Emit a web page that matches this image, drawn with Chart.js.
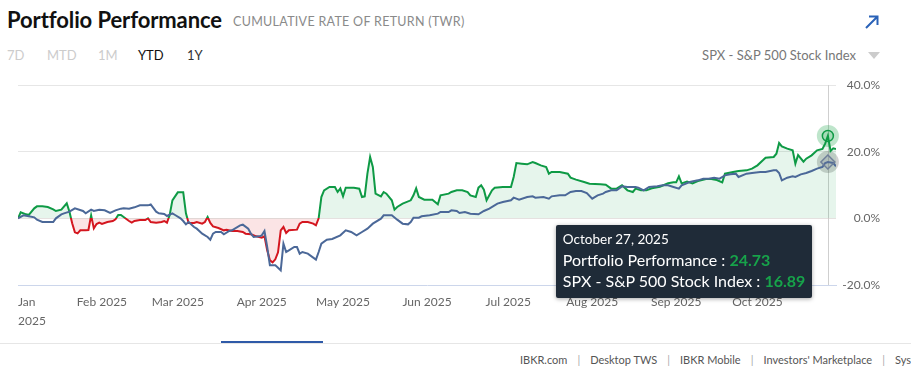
<!DOCTYPE html>
<html><head><meta charset="utf-8">
<script src="https://cdn.jsdelivr.net/npm/chart.js@4.4.1/dist/chart.umd.min.js"></script>
<style>
html,body{margin:0;padding:0;background:#fff;width:911px;height:374px;overflow:hidden;font-family:Lato,"Open Sans",sans-serif;}
.abs{position:absolute;white-space:nowrap;line-height:1;}
#title{left:7px;top:9px;font-size:22px;font-weight:700;color:#111;letter-spacing:-0.1px;}
#sub{left:233px;top:16px;font-size:12.5px;color:#8a8a8a;letter-spacing:0.3px;}
.tab{top:49px;font-size:13px;}
#spx{right:55px;top:49px;font-size:13px;color:#777;}
#tri{left:868px;top:52px;width:0;height:0;border-left:6px solid transparent;border-right:6px solid transparent;border-top:7px solid #ccc;}
#arrow{left:864px;top:14px;}
#wrap{position:absolute;left:0;top:75px;width:911px;height:260px;}
#sep{position:absolute;left:0;top:343px;width:911px;height:1px;background:#e6e6e6;}
#bar{position:absolute;left:221px;top:341px;width:102px;height:2px;background:#2f5aa8;}
#foot{left:520px;top:354px;font-size:11px;color:#555;}
#foot .s{color:#aaa;margin:0 10px;}
#tip{position:absolute;background:#1f2b38;color:#fff;padding:5px 7px 7px 7px;border-radius:2px;box-shadow:0 1px 4px rgba(0,0,0,0.35);white-space:nowrap;pointer-events:none;font-family:Lato,"Open Sans",sans-serif;}
#tip .t{font-size:13.5px;line-height:19px;}
#tip .l{font-size:16px;line-height:21px;}
#tip .v{color:#17a34a;font-weight:700;}
</style></head>
<body>
<div class="abs" id="title">Portfolio Performance</div>
<div class="abs" id="sub">CUMULATIVE RATE OF RETURN (TWR)</div>
<div class="abs tab" style="left:7px;color:#ccc">7D</div>
<div class="abs tab" style="left:47px;color:#ccc">MTD</div>
<div class="abs tab" style="left:98px;color:#ccc">1M</div>
<div class="abs tab" style="left:138px;color:#111">YTD</div>
<div class="abs tab" style="left:187px;color:#333">1Y</div>
<div class="abs" id="spx">SPX - S&amp;P 500 Stock Index</div>
<div class="abs" id="tri"></div>
<svg class="abs" id="arrow" width="16" height="16" viewBox="0 0 16 16"><path d="M2 14 L13 3 M5 2.5 H13.5 V11" stroke="#2a62b8" stroke-width="2" fill="none"/></svg>
<div id="wrap"><canvas id="c"></canvas><div id="tip" style="opacity:0"></div></div>
<div id="sep"></div><div id="bar"></div>
<div class="abs" id="foot">IBKR.com<span class="s">|</span>Desktop TWS<span class="s">|</span>IBKR Mobile<span class="s">|</span>Investors' Marketplace<span class="s">|</span>System Status</div>
<script>
// ---------- DATA ----------
const portfolioName = "Portfolio Performance";
const spxName = "SPX - S&P 500 Stock Index";
const portfolioDates = ["01-01","01-02","01-04","01-05","01-07","01-08","01-10","01-12","01-14","01-15","01-17","01-19","01-20","01-21","01-22","01-23","01-24","01-26","01-27","01-28","01-29","01-30","01-31",
"02-01","02-03","02-05","02-06","02-07","02-08","02-10","02-11","02-12","02-13","02-15","02-17","02-18","02-19","02-21","02-23","02-24","02-25","02-26","02-27",
"03-01","03-03","03-04","03-05","03-07","03-08","03-10","03-11","03-12","03-13","03-14","03-16","03-18","03-19","03-21","03-23","03-25","03-26","03-28","03-30",
"04-01","04-02","04-03","04-04","04-05","04-06","04-07","04-08","04-09","04-10","04-11","04-14","04-15","04-16","04-18","04-20","04-21","04-22","04-23","04-24","04-26","04-28","04-29","04-30",
"05-01","05-02","05-05","05-07","05-08","05-09","05-10","05-11","05-12","05-13","05-15","05-16","05-17","05-19","05-20","05-21","05-23","05-26","05-27","05-28","05-29","05-31",
"06-03","06-05","06-06","06-09","06-10","06-12","06-14","06-16","06-17","06-19","06-20","06-21","06-22","06-23","06-25","06-26","06-29",
"07-02","07-03","07-04","07-06","07-08","07-10","07-11","07-13","07-15","07-16","07-17","07-20","07-23","07-24","07-26","07-29","07-31",
"08-04","08-06","08-08","08-10","08-12","08-14","08-16","08-17","08-19","08-21","08-23","08-26","08-29","08-31",
"09-01","09-02","09-03","09-05","09-07","09-09","09-12","09-14","09-16","09-18","09-19","09-22","09-24","09-27","09-29",
"10-01","10-03","10-04","10-07","10-08","10-09","10-10","10-12","10-14","10-15","10-16","10-18","10-19","10-21","10-23","10-25","10-26","10-27","10-28","10-29","10-30"];
const portfolioValues = [0.0,1.8,1.2,1.0,3.0,3.6,3.6,3.4,2.7,2.2,2.6,4.5,2.0,-1.5,-4.2,-4.5,-3.6,-3.6,-3.5,0.9,-3.0,-1.7,-1.3,
-1.7,-1.1,-0.8,-0.3,1.0,1.0,-0.2,-0.8,-1.3,-0.8,-0.5,-0.5,0.0,-1.1,-1.3,-1.1,-0.8,-1.3,1.0,5.4,
7.8,7.8,1.5,-1.4,-1.4,-1.1,-1.6,-1.1,0.4,-1.4,-2.4,-2.9,-3.6,-3.4,-3.8,-3.8,-4.1,-4.6,-4.8,-5.4,
-5.8,-5.4,-9.6,-12.6,-13.2,-12.3,-10.2,-3.6,-2.6,-4.4,-3.6,-3.4,-1.6,-1.1,-1.1,-1.6,-2.1,0.0,6.4,8.4,9.4,9.4,7.9,9.0,
6.6,9.2,9.2,8.9,6.4,6.6,13.4,18.4,15.4,7.4,6.6,7.9,7.4,5.4,2.6,3.4,4.4,5.4,6.9,9.0,6.4,5.6,
5.6,4.2,6.9,7.4,7.9,8.4,8.4,7.9,6.9,6.4,9.2,9.9,8.6,5.4,8.4,9.2,9.4,
9.4,12.4,16.6,16.4,16.2,16.9,16.6,15.9,15.4,13.4,13.9,13.9,13.4,12.2,11.6,10.9,10.4,
10.2,10.1,8.9,8.9,9.9,8.4,7.9,8.9,8.4,8.4,9.0,9.5,10.5,10.8,
10.8,12.6,10.5,11.0,10.5,11.2,11.8,11.8,11.5,10.8,13.4,13.9,14.2,14.4,14.9,
15.9,17.4,18.2,18.4,19.4,22.6,21.6,20.9,20.4,16.4,19.0,17.0,17.9,18.9,20.4,20.8,22.4,24.73,20.2,21.0,20.8];
const spxDates = ["01-01","01-03","01-05","01-07","01-08","01-10","01-14","01-15","01-17","01-18","01-20","01-22","01-25","01-26","01-28","01-29","01-31",
"02-02","02-04","02-06","02-08","02-09","02-11","02-13","02-15","02-18","02-19","02-21","02-22","02-24","02-25","02-27","02-28",
"03-02","03-03","03-04","03-05","03-07","03-08","03-10","03-12","03-13","03-14","03-15","03-17","03-18","03-20","03-21","03-24","03-25","03-27","03-28","03-29","03-31",
"04-01","04-02","04-03","04-04","04-06","04-07","04-08","04-09","04-10","04-11","04-13","04-14","04-15","04-16","04-18","04-21","04-22","04-23","04-25","04-27","04-30",
"05-02","05-04","05-06","05-08","05-10","05-12","05-15","05-16","05-19","05-21","05-23","05-25","05-26","05-27","05-29","05-30",
"06-02","06-05","06-06","06-09","06-10","06-12","06-13","06-15","06-17","06-20","06-22","06-24","06-27","06-29",
"07-02","07-03","07-05","07-08","07-10","07-11","07-14","07-16","07-17","07-20","07-22","07-24","07-26","07-28","07-30",
"08-01","08-03","08-05","08-06","08-08","08-10","08-12","08-14","08-17","08-18","08-20","08-22","08-25","08-27","08-29","08-31",
"09-02","09-03","09-06","09-09","09-11","09-13","09-15","09-17","09-19","09-21","09-23","09-24","09-27","09-29",
"10-02","10-04","10-07","10-08","10-09","10-10","10-12","10-14","10-15","10-17","10-19","10-21","10-23","10-25","10-26","10-27","10-29","10-30"];
const spxValues = [0.0,0.9,0.6,0.3,-0.4,-1.1,-1.1,0.0,1.2,1.5,2.0,3.0,2.2,1.5,2.6,2.2,2.6,
2.4,1.6,2.4,2.9,3.0,2.9,3.3,3.9,3.9,4.2,2.0,1.5,1.3,0.7,1.5,1.0,
0.0,-0.8,-1.8,-1.1,-2.6,-3.1,-4.6,-5.6,-6.4,-4.6,-4.1,-4.1,-4.8,-3.8,-3.6,-2.1,-1.9,-3.1,-4.6,-5.6,-5.4,
-5.1,-3.8,-8.6,-14.1,-14.1,-14.8,-15.6,-7.6,-10.1,-9.6,-8.6,-8.6,-10.6,-10.1,-10.6,-12.4,-10.1,-7.6,-6.4,-6.2,-5.1,
-3.6,-4.1,-5.1,-4.1,-3.1,-1.6,-0.1,0.9,0.9,-0.4,-1.6,-1.8,-1.1,0.2,0.2,0.6,
0.9,1.4,1.9,1.9,2.4,2.2,1.6,1.9,1.4,1.2,2.2,2.9,4.4,4.9,
5.4,6.2,5.6,6.4,6.6,6.2,6.4,5.9,6.6,6.9,6.9,7.9,8.2,8.2,7.6,
5.9,6.9,7.4,7.9,8.4,8.4,9.6,9.4,9.4,9.2,8.4,9.4,9.6,9.9,9.9,9.4,
8.9,9.9,10.9,11.4,11.9,11.9,12.2,11.9,12.9,13.2,13.4,12.4,13.4,13.6,
13.9,13.9,14.4,14.4,13.6,11.4,12.2,12.6,12.4,13.2,13.6,14.2,14.9,15.4,16.6,16.89,16.6,15.6];
const tickDates = ["01-01","02-01","03-01","04-01","05-01","06-01","07-01","08-01","09-01","10-01"];
const tickLabels = [["Jan","2025"],"Feb 2025","Mar 2025","Apr 2025","May 2025","Jun 2025","Jul 2025","Aug 2025","Sep 2025","Oct 2025"];
const yTicks = [-20,0,20,40];
const hoverDate = "10-27";
const rangeEnd = "10-30";
const YEAR = 2025;
const monthNames = ["January","February","March","April","May","June","July","August","September","October","November","December"];

// ---------- helpers ----------
function dayIdx(s){const [m,d]=s.split("-").map(Number);return (Date.UTC(YEAR,m-1,d)-Date.UTC(YEAR,0,1))/86400000;}
function fmtDay(x){const dt=new Date(Date.UTC(YEAR,0,1)+Math.round(x)*86400000);return monthNames[dt.getUTCMonth()]+" "+dt.getUTCDate()+", "+YEAR;}
const GREEN="#0e9a45", RED="#d4161f", BLUE="#4b6898";

const portfolioData = portfolioDates.map((d,i)=>({x:dayIdx(d),y:portfolioValues[i]}));
const spxData = spxDates.map((d,i)=>({x:dayIdx(d),y:spxValues[i]}));

function lineColor(c){
  const ch=c.chart, a=ch.chartArea;
  if(!a) return GREEN;
  const y0=ch.scales.y.getPixelForValue(0);
  const f=Math.min(1,Math.max(0,(y0-a.top)/(a.bottom-a.top)));
  const g=ch.ctx.createLinearGradient(0,a.top,0,a.bottom);
  g.addColorStop(0,GREEN);g.addColorStop(f,GREEN);g.addColorStop(f,RED);g.addColorStop(1,RED);
  return g;
}

const hoverPlugin={
  id:'hoverDeco',
  beforeDatasetsDraw(chart){
    const act=chart.getActiveElements(); if(!act.length) return;
    const ctx=chart.ctx, a=chart.chartArea;
    ctx.save();
    const x=Math.round(act[0].element.x)+0.5;
    ctx.strokeStyle="#cfcfcf";ctx.lineWidth=1;
    ctx.beginPath();ctx.moveTo(x,a.top);ctx.lineTo(x,a.bottom);ctx.stroke();
    act.forEach(e=>{
      ctx.fillStyle = e.datasetIndex===0 ? "rgba(20,160,70,0.28)" : "rgba(90,90,90,0.28)";
      ctx.beginPath();ctx.arc(e.element.x,e.element.y,11,0,Math.PI*2);ctx.fill();
    });
    ctx.restore();
  }
};

function externalTip(context){
  const {chart,tooltip}=context;
  const el=document.getElementById('tip');
  if(tooltip.opacity===0){el.style.opacity=0;return;}
  const pts=tooltip.dataPoints||[];
  if(!pts.length) return;
  const byDs={};pts.forEach(p=>byDs[p.datasetIndex]=p);
  let html='<div class="t">'+fmtDay(pts[0].parsed.x)+'</div>';
  [0,1].forEach(i=>{ if(byDs[i]) html+='<div class="l">'+chart.data.datasets[i].label+' : <span class="v">'+byDs[i].parsed.y.toFixed(2)+'</span></div>'; });
  el.innerHTML=html;
  el.style.opacity=1;
  el.style.left=(tooltip.caretX-272)+'px';
  el.style.top=(chart.scales.y.getPixelForValue(0)+7)+'px';
}

Chart.defaults.font.family='Lato, "Open Sans", sans-serif';
const chart=new Chart(document.getElementById('c'),{
  type:'line',
  data:{datasets:[
    {label:portfolioName,data:portfolioData,order:2,borderColor:lineColor,borderWidth:2,tension:0,
     pointRadius:0,pointHoverRadius:5.5,pointStyle:'circle',pointBorderColor:GREEN,pointHoverBorderColor:GREEN,pointHoverBorderWidth:1.5,
     pointHoverBackgroundColor:"rgba(20,160,70,0.15)",
     fill:{target:{value:0},above:"rgba(14,154,69,0.10)",below:"rgba(220,30,40,0.12)"}},
    {label:spxName,data:spxData,order:1,borderColor:BLUE,borderWidth:2,tension:0,fill:false,
     pointRadius:0,pointHoverRadius:7,pointStyle:'rectRot',pointBorderColor:BLUE,pointHoverBorderColor:"#6f7f99",pointHoverBorderWidth:1.5,
     pointHoverBackgroundColor:"rgba(120,130,150,0.2)"}
  ]},
  options:{
    responsive:true,maintainAspectRatio:false,animation:false,events:[],
    layout:{padding:{left:18,right:31,top:10,bottom:0}},
    interaction:{mode:'nearest',axis:'x',intersect:false},
    plugins:{legend:{display:false},
      tooltip:{enabled:false,external:externalTip}},
    scales:{
      x:{type:'linear',min:0,max:dayIdx(rangeEnd),
        grid:{display:false,drawTicks:false},
        border:{display:true,color:'#ccd6eb',width:1},
        afterBuildTicks(s){s.ticks=tickDates.map(d=>({value:dayIdx(d)})).concat([{value:dayIdx(rangeEnd)}]);},
        afterFit(s){s.height=50;},
        ticks:{align:'inner',maxRotation:0,autoSkip:false,padding:8,color:'#666',font:{size:12,lineHeight:1.55},
          callback(v,i){return i<tickLabels.length?tickLabels[i]:'';}}
      },
      y:{position:'right',min:-20,max:40,
        afterBuildTicks(s){s.ticks=yTicks.map(v=>({value:v}));},
        afterFit(s){s.width=44;},
        grid:{drawTicks:false,color:c=>c.tick&&c.tick.value===-20?'rgba(0,0,0,0)':'#e6e6e6',lineWidth:1},
        border:{display:false},
        ticks:{crossAlign:'far',padding:0,color:'#666',font:{size:12},callback:v=>v.toFixed(1)+'%'}
      }
    }
  },
  plugins:[hoverPlugin]
});
const act=[{datasetIndex:0,index:portfolioDates.indexOf(hoverDate)},{datasetIndex:1,index:spxDates.indexOf(hoverDate)}];
chart.setActiveElements(act);
chart.tooltip.setActiveElements(act,{x:0,y:0});
chart.update();
</script>
</body></html>
